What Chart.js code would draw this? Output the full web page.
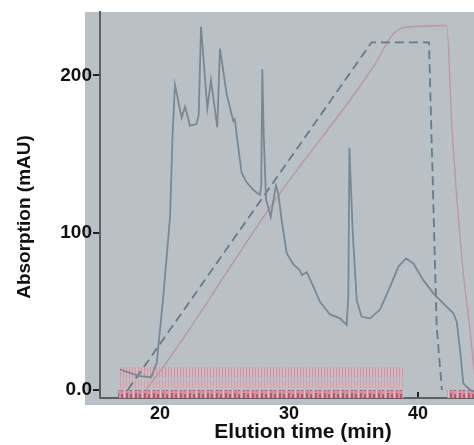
<!DOCTYPE html>
<html>
<head>
<meta charset="utf-8">
<script src="https://cdn.jsdelivr.net/npm/chart.js@4.4.0/dist/chart.umd.min.js"></script>
<style>
  html, body { margin: 0; padding: 0; background: #fff; }
  #wrap { width: 474px; height: 445px; }
</style>
</head>
<body>
<div id="wrap"><canvas id="chart" width="474" height="445"></canvas></div>
<script>
// UV trace (min, mAU)
const uvTime = [16.9, 17.6, 18.4, 19.3, 19.74, 20.23, 20.78, 20.98, 21.16, 21.68, 21.94, 22.33, 22.84, 23.0, 23.18,
  23.67, 23.95, 24.44, 24.65, 25.17, 25.68, 25.8, 26.07, 26.33, 26.72, 27.24, 27.75, 27.85, 27.93, 28.05, 28.22,
  28.4, 28.58, 28.99, 29.17, 29.43, 29.82, 30.33, 30.85, 31.0, 31.37, 31.76, 32.4, 33.18, 33.95, 34.47, 34.6,
  34.68, 34.8, 34.94, 35.25, 35.63, 36.28, 37.05, 37.83, 38.47, 39.07, 39.64, 40.41, 41.19, 41.96, 42.74, 43.0,
  43.26, 43.51, 44.03, 44.4];
const uvAbs = [13, 11, 9, 8, 17, 57, 110, 163, 194, 173, 180, 168, 169, 175, 231,
  179, 197, 167, 217, 188, 171, 172, 154, 138, 132, 127, 124, 130, 204, 160, 121,
  116, 110, 130, 125, 108, 87, 80, 76, 73, 75, 68, 56, 48, 45.5, 41.3, 60,
  154, 130, 100, 57, 46.5, 45.5, 51, 65.6, 78.3, 83.6, 80.4, 69.8, 61.4, 55, 48.7, 43.4,
  25.4, 4.2, 0, -1];

// programmed gradient (dashed)
const gradTime = [17.5, 36.4, 40.85, 41.45, 41.85];
const gradVal = [0, 221, 221, 40, 0];

// measured buffer trace (pink)
const condTime = [18.9, 20.64, 28.91, 36.53, 38.09, 39.12, 42.22, 42.64, 43.41, 44.03, 44.5];
const condVal = [0, 19, 120.6, 205.3, 226.4, 230.7, 231.7, 165, 82.5, 38, 0];

// fraction collector marks
const fracStart = [16.74, 42.25];
const fracEnd = [38.9, 44.4];
const bandTop = [14.6, 6.3, 0];
const bandBottom = [7.6, 1.3, -5.1];

const xTicks = [20, 30, 40];
const yTicks = [0, 100, 200];
const yTickLabels = ['0.0', '100', '200'];

const FONT = '"Liberation Sans", Arial, sans-serif';

function stripes(base, line, period) {
  const c = document.createElement('canvas');
  c.width = period; c.height = 8;
  const g = c.getContext('2d');
  g.fillStyle = base;
  g.fillRect(0, 0, period, 8);
  g.fillStyle = line;
  g.fillRect(0, 0, 1, 8);
  return g.createPattern(c, 'repeat');
}

function mottled() {
  const c = document.createElement('canvas');
  c.width = 9; c.height = 8;
  const g = c.getContext('2d');
  g.fillStyle = '#cf95a3';
  g.fillRect(0, 0, 9, 8);
  g.fillStyle = '#b25a70';
  g.fillRect(0, 1, 2, 6);
  g.fillRect(4, 2, 2, 5);
  g.fillStyle = '#e3c3cb';
  g.fillRect(7, 0, 1, 8);
  return g.createPattern(c, 'repeat');
}

const pts = (xs, ys) => xs.map((x, i) => ({ x: x, y: ys[i] }));

const bandStyles = [
  stripes('#d4b6c0', '#c49aa8', 3),
  stripes('#d0bac2', '#c6a3af', 3),
  mottled()
];

const bandSets = [];
bandTop.forEach((top, b) => {
  fracStart.forEach((s, k) => {
    if (b < 2 && k > 0) return;
    bandSets.push({
      data: [{ x: s, y: top }, { x: fracEnd[k], y: top }],
      borderWidth: 0,
      pointRadius: 0,
      backgroundColor: bandStyles[b],
      fill: { value: bandBottom[b] },
      order: 10
    });
  });
});

const bgPlugin = {
  id: 'paper',
  beforeDraw(chart) {
    const ctx = chart.ctx;
    ctx.save();
    ctx.fillStyle = '#ffffff';
    ctx.fillRect(0, 0, chart.width, chart.height);
    ctx.fillStyle = '#bac1c6';
    ctx.fillRect(85, 12, chart.width - 85, 393);
    ctx.restore();
  },
  afterDraw(chart) {
    const ctx = chart.ctx;
    ctx.save();
    ctx.fillStyle = '#111';
    ctx.textAlign = 'center';
    ctx.textBaseline = 'middle';
    ctx.font = 'bold 21px ' + FONT;
    ctx.fillText('Elution time (min)', 303, 432);
    ctx.translate(25, 217);
    ctx.rotate(-Math.PI / 2);
    ctx.font = 'bold 19px ' + FONT;
    ctx.fillText('Absorption (mAU)', 0, 0);
    ctx.restore();
  }
};

new Chart(document.getElementById('chart'), {
  type: 'line',
  data: {
    datasets: [
      {
        data: pts(uvTime, uvAbs),
        borderColor: '#7e8691',
        borderWidth: 1.8,
        pointRadius: 0,
        tension: 0,
        order: 1
      },
      {
        data: pts(gradTime, gradVal),
        borderColor: '#6d797f',
        borderWidth: 1.8,
        borderDash: [9, 5],
        pointRadius: 0,
        order: 2
      },
      {
        data: pts(condTime, condVal),
        borderColor: '#b898a6',
        borderWidth: 1.4,
        pointRadius: 0,
        cubicInterpolationMode: 'monotone',
        order: 3
      },
      ...bandSets
    ]
  },
  options: {
    responsive: false,
    animation: false,
    layout: { padding: { top: 12, left: 0, right: 0, bottom: 0 } },
    plugins: {
      legend: { display: false },
      tooltip: { enabled: false }
    },
    scales: {
      x: {
        type: 'linear',
        min: 15.35,
        max: 44.34,
        afterBuildTicks: s => { s.ticks = xTicks.map(v => ({ value: v })); },
        afterFit: s => { s.height = 47; },
        ticks: {
          autoSkip: false,
          maxRotation: 0,
          padding: 11,
          color: '#111',
          font: { family: FONT, size: 18, weight: 'bold' },
          callback: v => String(v)
        },
        grid: { drawOnChartArea: false, tickLength: -6, color: '#222', lineWidth: 2 },
        border: { color: '#5b6165', width: 2 }
      },
      y: {
        type: 'linear',
        min: -5.1,
        max: 240,
        afterBuildTicks: s => { s.ticks = yTicks.map(v => ({ value: v })); },
        afterFit: s => { s.width = 100; },
        ticks: {
          padding: 1,
          color: '#111',
          font: { family: FONT, size: 19, weight: 'bold' },
          callback: v => yTickLabels[yTicks.indexOf(v)]
        },
        grid: { drawOnChartArea: false, tickLength: 7, color: '#222', lineWidth: 2 },
        border: { color: '#5b6165', width: 2 }
      }
    }
  },
  plugins: [bgPlugin]
});
</script>
</body>
</html>
